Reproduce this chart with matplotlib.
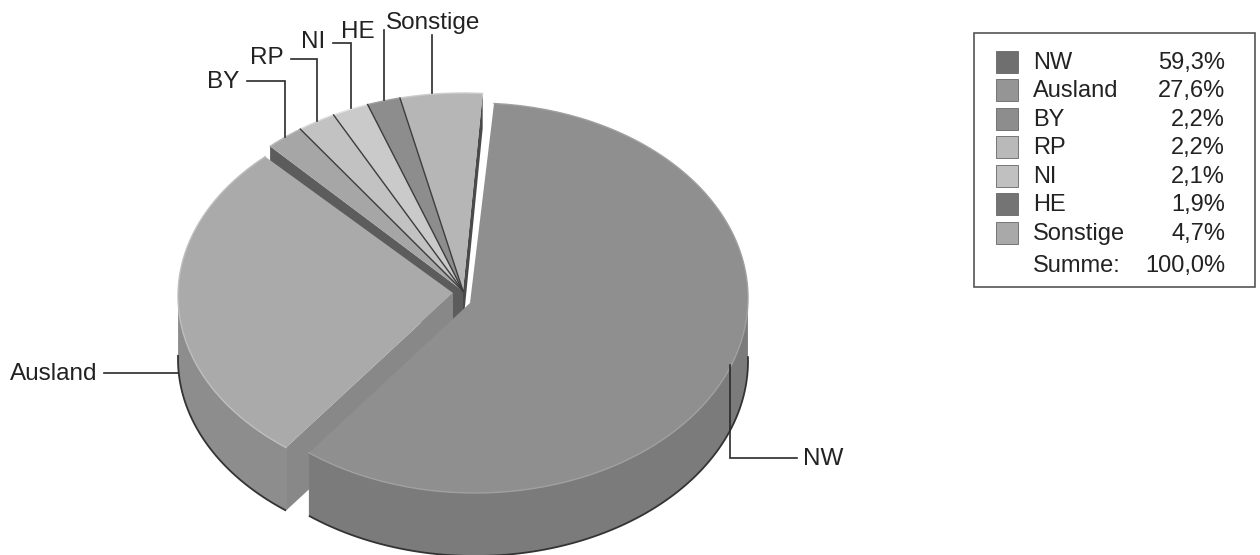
#!/usr/bin/env python3
import numpy as np
import matplotlib
matplotlib.use('Agg')
import matplotlib.pyplot as plt
from matplotlib.patches import Polygon, Rectangle

labels = ['NW', 'Ausland', 'BY', 'RP', 'NI', 'HE', 'Sonstige']
shares = [59.3, 27.6, 2.2, 2.2, 2.1, 1.9, 4.7]
share_text = ['59,3%', '27,6%', '2,2%', '2,2%', '2,1%', '1,9%', '4,7%']
total_label = 'Summe:'
total_text = '100,0%'

top_colors = ['#8f8f8f', '#aaaaaa', '#a6a6a6', '#c2c2c2', '#cacaca', '#8d8d8d', '#b6b6b6']
legend_colors = ['#6f6f6f', '#959595', '#8d8d8d', '#b9b9b9', '#c0c0c0', '#747474', '#a9a9a9']
START = 4.0
DEPTH = 63

plt.rcParams['font.family'] = ['Liberation Sans', 'DejaVu Sans']


def arc(cx, cy, rx, ry, t0, t1, n=160):
    # angles run clockwise from 12 o'clock, y axis points down
    t = np.radians(np.linspace(t0, t1, n))
    return np.column_stack([cx + rx * np.sin(t), cy - ry * np.cos(t)])


def slice_shape(i):
    # (arc centre x, y, radius x, y, apex x, y)
    if i == 0:
        return 475, 298, 273, 195, 470, 303
    if i == 1:
        return 454, 296, 276, 191, 453, 293
    return 463, 290, 282, 197, 463, 291


def shade(hex_color, f):
    rgb = np.array(matplotlib.colors.to_rgb(hex_color)) * f
    return tuple(np.clip(rgb, 0, 1))


def draw_walls(ax, i, t0, t1):
    cx, cy, rx, ry, ax_x, ax_y = slice_shape(i)
    base = top_colors[i]
    rim = arc(cx, cy, rx, ry, t0, t1)
    apex = np.array([ax_x, ax_y])
    down = np.array([0, DEPTH])

    # radial faces, only those that look towards the viewer
    if i == 1:
        quad = [apex, rim[0], rim[0] + down, apex + down]
        ax.add_patch(Polygon(quad, closed=True, fc=shade(base, 0.8), ec='none'))
    if i == 2:
        quad = [apex, rim[0], rim[0] + down, apex + down]
        ax.add_patch(Polygon(quad, closed=True, fc='#5c5c5c', ec='none'))
    if i == 6:
        d = np.array([0, 35])
        quad = [apex, rim[-1], rim[-1] + d, apex + d]
        ax.add_patch(Polygon(quad, closed=True, fc='#4a4a4a', ec='none'))

    # outer wall
    front = rim[rim[:, 1] >= cy - 5]
    if len(front) > 1:
        f = 0.86 if i == 0 else 0.83
        wall = np.vstack([front, (front + down)[::-1]])
        ax.add_patch(Polygon(wall, closed=True, fc=shade(base, f), ec='none'))
        lower = front + down
        ax.plot(lower[:, 0], lower[:, 1], color='#333333', lw=1.3, solid_capstyle='butt')


def draw_top(ax, i, t0, t1):
    cx, cy, rx, ry, ax_x, ax_y = slice_shape(i)
    base = top_colors[i]
    rim = arc(cx, cy, rx, ry, t0, t1)
    apex = np.array([ax_x, ax_y])
    ax.add_patch(Polygon(np.vstack([apex, rim]), closed=True, fc=base, ec='none'))
    ax.plot(rim[:, 0], rim[:, 1], color=shade(base, 1.12), lw=1.0)
    if i >= 3:
        ax.plot([apex[0], rim[0][0]], [apex[1], rim[0][1]], color='#3c3c3c', lw=1.0)


fig = plt.figure(figsize=(12.6, 5.55), dpi=100)
ax = fig.add_axes([0, 0, 1, 1])
ax.set_xlim(0, 1260)
ax.set_ylim(555, 0)
ax.axis('off')

bounds = START + np.concatenate([[0], np.cumsum(shares)]) * 3.6
# paint back to front: the small slices first, then Ausland, then NW
for i in [2, 3, 4, 5, 6]:
    draw_walls(ax, i, bounds[i], bounds[i + 1])
for i in [2, 3, 4, 5, 6]:
    draw_top(ax, i, bounds[i], bounds[i + 1])
for i in [1, 0]:
    draw_walls(ax, i, bounds[i], bounds[i + 1])
    draw_top(ax, i, bounds[i], bounds[i + 1])

# leader lines
leaders = [
    ([730, 730, 797], [365, 458, 458]),
    ([104, 178], [373, 373]),
    ([247, 285, 285], [81, 81, 137]),
    ([291, 317, 317], [59, 59, 121]),
    ([333, 351, 351], [43, 43, 108]),
    ([384, 384], [30, 100]),
    ([432, 432], [35, 93]),
]
for xs, ys in leaders:
    ax.plot(xs, ys, color='#2a2a2a', lw=1.2, solid_joinstyle='miter')

label_pos = [(803, 459, 'left'), (10, 374, 'left'), (207, 82, 'left'), (250, 58, 'left'),
             (301, 42, 'left'), (341, 32, 'left'), (386, 23, 'left')]
for name, (x, y, ha) in zip(labels, label_pos):
    ax.text(x, y, name, fontsize=17.5, color='#222222', ha=ha, va='center')

# legend box
ax.add_patch(Rectangle((974, 33), 281, 254, fc='white', ec='#555555', lw=1.2))
row_y = [62, 90, 119, 147, 176, 204, 233]
for name, val, col, y in zip(labels, share_text, legend_colors, row_y):
    ax.add_patch(Rectangle((996, y - 11), 22, 22, fc=col, ec='#666666', lw=0.6))
    ax.text(1033, y + 1, name, fontsize=17, color='#222222', va='center')
    ax.text(1225, y + 1, val, fontsize=17, color='#222222', va='center', ha='right')
ax.text(1033, 266, total_label, fontsize=17, color='#222222', va='center')
ax.text(1225, 266, total_text, fontsize=17, color='#222222', va='center', ha='right')

fig.savefig('out.png', dpi=100)
